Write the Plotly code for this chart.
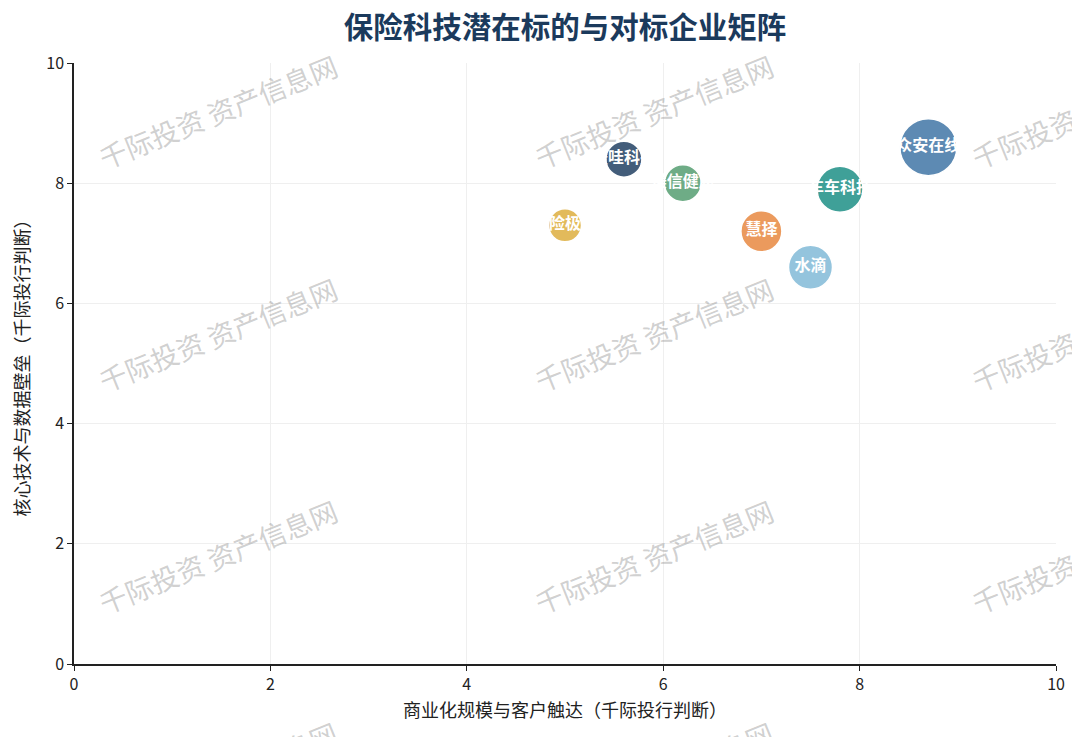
import plotly.graph_objects as go

# bubble matrix data
companies = ["众安在线", "车车科技", "镁信健康", "暖哇科技", "保险极客", "慧择", "水滴"]
commercial = [8.7, 7.8, 6.2, 5.6, 5.0, 7.0, 7.5]
tech_moat = [8.6, 7.9, 8.0, 8.4, 7.3, 7.2, 6.6]
weight = [57, 46, 37, 36, 33, 41, 44]
colors = ["#5081ad", "#2f9890", "#62a67c", "#34506f", "#e0b54e", "#ea9250", "#8cc0db"]

axis_ticks = [0, 2, 4, 6, 8, 10]
watermark = "千际投资 资产信息网"

FONT = "Noto Sans CJK SC"
W, H = 1080, 737
OFF = 8  # page body margin pushes the figure 8px right/down
# plot area on screen: x 74..1056, y 63..664
L, T = 74 - OFF, 63 - OFF
R, B = W - (1056 - OFF), H - (664 - OFF)

fig = go.Figure()
fig.add_trace(go.Scatter(
    x=commercial,
    y=tech_moat,
    mode="markers+text",
    text=companies,
    textposition="middle center",
    textfont=dict(family=FONT, size=16, color="white", weight="bold"),
    marker=dict(size=weight, sizemode="diameter", sizeref=1,
                color=colors, opacity=0.92,
                line=dict(color="white", width=1.5)),
    hoverinfo="text",
    showlegend=False,
    cliponaxis=False,
))

# watermark grid, screen pixel spots -> paper coords
pw, ph = W - L - R, H - T - B
for y0 in [160, 383, 605, 827]:
    for x0 in [97, 533, 970]:
        cx, cy = x0 + 121 - OFF, y0 - 49 - OFF
        fig.add_annotation(
            text=watermark, xref="paper", yref="paper",
            x=(cx - L) / pw, y=(H - B - cy) / ph,
            xanchor="center", yanchor="middle", showarrow=False,
            textangle=-22,
            font=dict(family=FONT, size=27.5, color="rgba(150,150,150,0.45)"),
        )

axis_common = dict(
    range=[0, 10], tickvals=axis_ticks, showgrid=True, gridcolor="#efefef",
    gridwidth=1, zeroline=False, showline=True, linecolor="#222222",
    linewidth=1.5, ticks="outside", ticklen=5, tickcolor="#222222",
    tickfont=dict(family=FONT, size=16, color="#222222"), mirror=False,
    automargin=False,
)
fig.update_xaxes(**axis_common,
                 title=dict(text="商业化规模与客户触达（千际投行判断）",
                            font=dict(family=FONT, size=18, color="#222222"),
                            standoff=10))
fig.update_yaxes(**axis_common,
                 title=dict(text="核心技术与数据壁垒（千际投行判断）",
                            font=dict(family=FONT, size=18, color="#222222"),
                            standoff=12))

fig.update_layout(
    width=W, height=H,
    margin=dict(l=L, r=R, t=T, b=B),
    paper_bgcolor="white", plot_bgcolor="white",
    title=dict(text="<b>保险科技潜在标的与对标企业矩阵</b>",
               font=dict(family=FONT, size=29.5, color="#1b3a5c"),
               x=(L + pw / 2) / W, xanchor="center",
               y=1 - (28 - OFF) / H, yanchor="middle"),
    font=dict(family=FONT),
)

fig.write_html("out.html")
